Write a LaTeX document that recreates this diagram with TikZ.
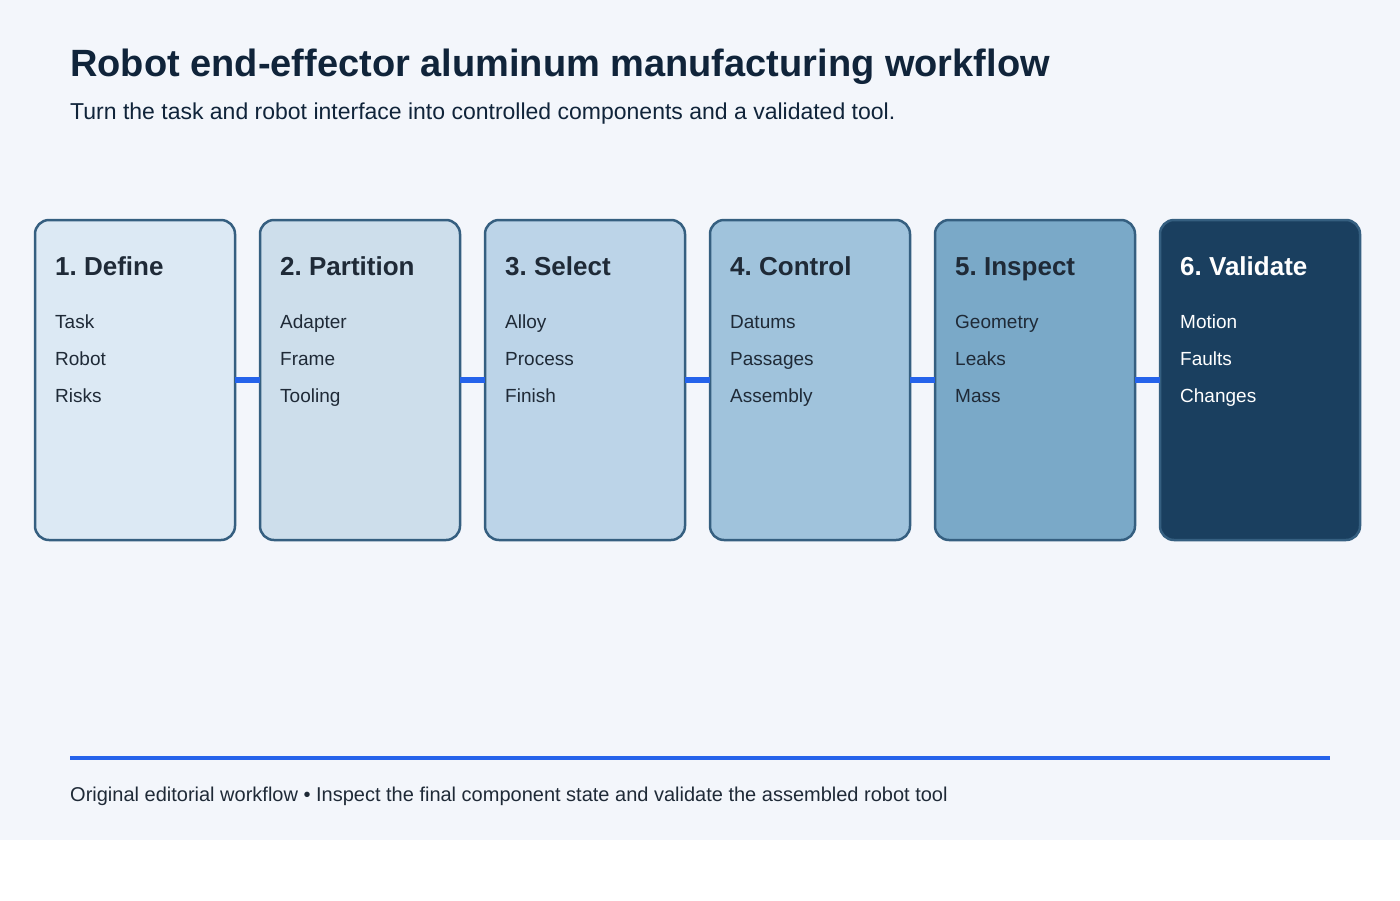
\documentclass[tikz,border=0pt]{standalone}
\usepackage{fontspec}
\setmainfont{Liberation Sans}
\definecolor{pagebg}{HTML}{F3F6FB}
\definecolor{titlec}{HTML}{10243A}
\definecolor{textc}{HTML}{1F2A37}
\definecolor{borderc}{HTML}{355F80}
\definecolor{linkc}{HTML}{2563EB}
\definecolor{fillA}{HTML}{DCE9F4}
\definecolor{fillB}{HTML}{CDDEEB}
\definecolor{fillC}{HTML}{BCD4E8}
\definecolor{fillD}{HTML}{A0C3DC}
\definecolor{fillE}{HTML}{7AA9C8}
\definecolor{fillF}{HTML}{1A3F5F}
\frenchspacing
\tikzset{
  stepbox/.style={draw=borderc, line width=2.5pt, rounded corners=14pt, minimum width=200pt, minimum height=320pt, inner sep=0pt, outer sep=0pt, anchor=north west},
  steptitle/.style={anchor=base west, inner sep=0pt, font=\fontsize{26}{31}\selectfont\bfseries},
  stepitem/.style={anchor=base west, inner sep=0pt, font=\fontsize{19}{23}\selectfont},
  link/.style={draw=linkc, line width=6pt}
}
\begin{document}
\begin{tikzpicture}[x=1pt,y=-1pt]
\useasboundingbox (0,0) rectangle (1400,900);
\fill[pagebg] (0,0) rectangle (1400,840);
\node[anchor=base west, inner sep=0pt, text=titlec, font=\fontsize{38}{45}\selectfont\bfseries] (title) at (70,76) {Robot end-effector aluminum manufacturing workflow};
\node[anchor=base west, inner sep=0pt, text=titlec, font=\fontsize{23}{27}\selectfont] (subtitle) at (70,119) {Turn the task and robot interface into controlled components and a validated tool.};

\foreach \i/\x/\f/\t/\c/\a/\b/\d in {
  1/35/fillA/1. Define/textc/Task/Robot/Risks,
  2/260/fillB/2. Partition/textc/Adapter/Frame/Tooling,
  3/485/fillC/3. Select/textc/Alloy/Process/Finish,
  4/710/fillD/4. Control/textc/Datums/Passages/Assembly,
  5/935/fillE/5. Inspect/textc/Geometry/Leaks/Mass,
  6/1160/fillF/6. Validate/white/Motion/Faults/Changes}{
  \node[stepbox, fill=\f] (box\i) at (\x,220) {};
  \node[steptitle, text=\c] (t\i) at (\x+20,275) {\t};
  \node[stepitem, text=\c] (a\i) at (\x+20,328) {\a};
  \node[stepitem, text=\c] (b\i) at (\x+20,365) {\b};
  \node[stepitem, text=\c] (d\i) at (\x+20,402) {\d};
}
\foreach \i [evaluate=\i as \j using int(\i+1)] in {1,...,5}{
  \draw[link] (box\i.east) -- (box\j.west);
}

\coordinate (fl) at (70,757.5);
\coordinate (fr) at (1330,757.5);
\draw[draw=linkc, line width=4pt] (fl) -- (fr);
\node[anchor=base west, inner sep=0pt, text=textc, font=\fontsize{20}{24}\selectfont] (footer) at (70,801) {Original editorial workflow • Inspect the final component state and validate the assembled robot tool};
\end{tikzpicture}
\end{document}
